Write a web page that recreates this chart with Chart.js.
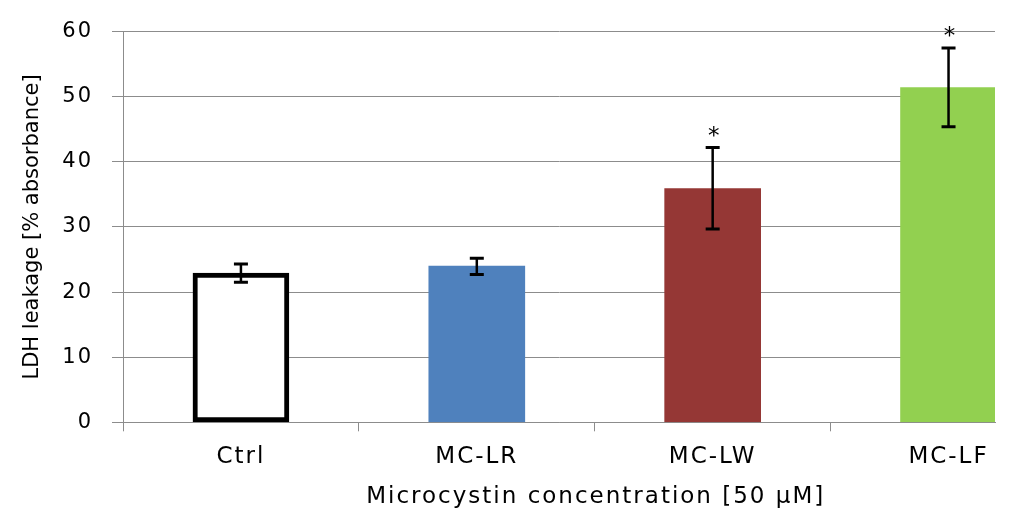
<!DOCTYPE html>
<html>
<head>
<meta charset="utf-8">
<script src="https://cdn.jsdelivr.net/npm/chart.js@4.4.1/dist/chart.umd.min.js"></script>
<style>
  html, body { margin: 0; padding: 0; background: #fff; }
  #wrap { width: 1024px; height: 525px; position: relative; }
</style>
</head>
<body>
<div id="wrap"><canvas id="c"></canvas></div>
<script>
const categories = ['Ctrl', 'MC-LR', 'MC-LW', 'MC-LF'];
const values = [22.9, 24.0, 35.9, 51.4];
const errHigh = [24.3, 25.2, 42.2, 57.5];
const errLow = [21.5, 22.7, 29.7, 45.4];
const significance = ['', '', '*', '*'];
const yTicks = [0, 10, 20, 30, 40, 50, 60];
const boundaryTicks = [-0.5, 0.5, 1.5, 2.5];
const xTitle = 'Microcystin concentration [50 µM]';
const yTitle = 'LDH leakage [% absorbance]';

const barColors = ['#ffffff', '#4f81bd', '#953735', '#92d050'];
const borderColors = ['#000000', '#4f81bd', '#953735', '#92d050'];
const borderWidths = [5, 0, 0, 0];

const FONT = 'DejaVu Sans';
const GRID = '#8c8c8c';

const spacingPlugin = {
  id: 'spacing',
  beforeLayout(chart) { chart.ctx.letterSpacing = '2px'; },
  beforeDraw(chart) { chart.ctx.letterSpacing = '2px'; }
};

const errorBarPlugin = {
  id: 'errorBars',
  afterDatasetsDraw(chart) {
    const ctx = chart.ctx;
    const xs = chart.scales.x, ys = chart.scales.y;
    ctx.save();
    ctx.letterSpacing = '0px';
    ctx.strokeStyle = '#000';
    categories.forEach((c, i) => {
      const x = xs.getPixelForValue(i);
      const yh = ys.getPixelForValue(errHigh[i]);
      const yl = ys.getPixelForValue(errLow[i]);
      ctx.lineWidth = 2.5;
      ctx.beginPath();
      ctx.moveTo(x, yh); ctx.lineTo(x, yl);
      ctx.stroke();
      ctx.lineWidth = 3;
      ctx.beginPath();
      ctx.moveTo(x - 7, yh); ctx.lineTo(x + 7, yh);
      ctx.moveTo(x - 7, yl); ctx.lineTo(x + 7, yl);
      ctx.stroke();
      if (significance[i]) {
        ctx.fillStyle = '#000';
        ctx.font = '23px "' + FONT + '"';
        ctx.textAlign = 'center';
        ctx.textBaseline = 'alphabetic';
        ctx.fillText(significance[i], x + 1, yh - 5);
      }
    });
    ctx.restore();
  },
  afterDraw(chart) {
    const ctx = chart.ctx;
    const xs = chart.scales.x, ys = chart.scales.y;
    ctx.save();
    ctx.fillStyle = '#000';
    ctx.textAlign = 'center';
    ctx.textBaseline = 'middle';
    // x title centred on the full category span
    ctx.letterSpacing = '2px';
    ctx.font = '23px "' + FONT + '"';
    ctx.fillText(xTitle, xs.getPixelForValue(1.5) + 1, 497);
    // y title
    ctx.letterSpacing = '0px';
    ctx.font = '21px "' + FONT + '"';
    ctx.translate(33, (ys.top + ys.bottom) / 2);
    ctx.rotate(-Math.PI / 2);
    ctx.fillText(yTitle, 0, 0);
    ctx.restore();
  }
};

new Chart(document.getElementById('c'), {
  type: 'bar',
  data: {
    datasets: [{
      data: categories.map((c, i) => ({ x: i, y: values[i] })),
      backgroundColor: barColors,
      borderColor: borderColors,
      borderWidth: borderWidths,
      borderSkipped: false,
      barThickness: 96
    }]
  },
  options: {
    responsive: true,
    maintainAspectRatio: false,
    animation: false,
    layout: { padding: { top: 30, right: 29, left: 0, bottom: 0 } },
    plugins: { legend: { display: false }, tooltip: { enabled: false } },
    scales: {
      x: {
        type: 'linear',
        offset: false,
        min: -0.5,
        max: 3.197,
        afterBuildTicks(scale) {
          const t = boundaryTicks.concat(categories.map((c, i) => i)).sort((a, b) => a - b);
          scale.ticks = t.map(v => ({ value: v }));
        },
        afterFit(scale) { scale.height = 102.7; },
        ticks: {
          autoSkip: false,
          maxRotation: 0,
          padding: 12,
          color: '#000',
          font: { family: FONT, size: 23 },
          callback(v) { return Number.isInteger(v) ? categories[v] : ''; }
        },
        grid: {
          offset: false,
          drawOnChartArea: false,
          drawTicks: true,
          tickLength: 9,
          tickColor(ctx) { return (ctx.tick && Number.isInteger(ctx.tick.value)) ? 'rgba(0,0,0,0)' : GRID; }
        },
        border: { display: true, color: GRID, width: 1 },
        title: { display: false, text: xTitle }
      },
      y: {
        min: 0,
        max: 60,
        afterBuildTicks(scale) { scale.ticks = yTicks.map(v => ({ value: v })); },
        afterFit(scale) { scale.width = 123; },
        ticks: {
          padding: 19,
          color: '#000',
          font: { family: FONT, size: 21 }
        },
        grid: { color: GRID, lineWidth: 1, tickLength: 11, tickColor: GRID },
        border: { display: true, color: GRID, width: 1 },
        title: { display: false, text: yTitle }
      }
    }
  },
  plugins: [spacingPlugin, errorBarPlugin]
});
</script>
</body>
</html>
